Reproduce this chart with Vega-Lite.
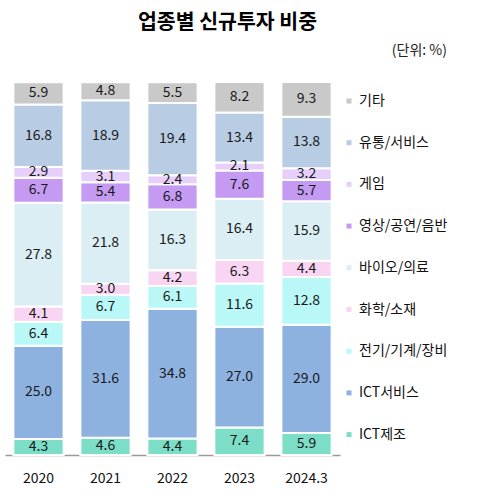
{
  "$schema": "https://vega.github.io/schema/vega-lite/v6.json",
  "autosize": "none",
  "width": 335,
  "height": 373,
  "padding": {"left": 5, "top": 82, "right": 137, "bottom": 43},
  "background": "white",
  "config": {"view": {"stroke": null}, "font": "Noto Sans CJK KR"},
  "title": {
    "text": "업종별 신규투자 비중",
    "fontSize": 20.5,
    "fontWeight": "bold",
    "color": "#000",
    "anchor": "middle",
    "dx": 55,
    "offset": 11
  },
  "data": {
    "values": [
      {"year": "2020", "cat": "ICT제조", "v": 4.3},
      {"year": "2020", "cat": "ICT서비스", "v": 25.0},
      {"year": "2020", "cat": "전기/기계/장비", "v": 6.4},
      {"year": "2020", "cat": "화학/소재", "v": 4.1},
      {"year": "2020", "cat": "바이오/의료", "v": 27.8},
      {"year": "2020", "cat": "영상/공연/음반", "v": 6.7},
      {"year": "2020", "cat": "게임", "v": 2.9},
      {"year": "2020", "cat": "유통/서비스", "v": 16.8},
      {"year": "2020", "cat": "기타", "v": 5.9},
      {"year": "2021", "cat": "ICT제조", "v": 4.6},
      {"year": "2021", "cat": "ICT서비스", "v": 31.6},
      {"year": "2021", "cat": "전기/기계/장비", "v": 6.7},
      {"year": "2021", "cat": "화학/소재", "v": 3.0},
      {"year": "2021", "cat": "바이오/의료", "v": 21.8},
      {"year": "2021", "cat": "영상/공연/음반", "v": 5.4},
      {"year": "2021", "cat": "게임", "v": 3.1},
      {"year": "2021", "cat": "유통/서비스", "v": 18.9},
      {"year": "2021", "cat": "기타", "v": 4.8},
      {"year": "2022", "cat": "ICT제조", "v": 4.4},
      {"year": "2022", "cat": "ICT서비스", "v": 34.8},
      {"year": "2022", "cat": "전기/기계/장비", "v": 6.1},
      {"year": "2022", "cat": "화학/소재", "v": 4.2},
      {"year": "2022", "cat": "바이오/의료", "v": 16.3},
      {"year": "2022", "cat": "영상/공연/음반", "v": 6.8},
      {"year": "2022", "cat": "게임", "v": 2.4},
      {"year": "2022", "cat": "유통/서비스", "v": 19.4},
      {"year": "2022", "cat": "기타", "v": 5.5},
      {"year": "2023", "cat": "ICT제조", "v": 7.4},
      {"year": "2023", "cat": "ICT서비스", "v": 27.0},
      {"year": "2023", "cat": "전기/기계/장비", "v": 11.6},
      {"year": "2023", "cat": "화학/소재", "v": 6.3},
      {"year": "2023", "cat": "바이오/의료", "v": 16.4},
      {"year": "2023", "cat": "영상/공연/음반", "v": 7.6},
      {"year": "2023", "cat": "게임", "v": 2.1},
      {"year": "2023", "cat": "유통/서비스", "v": 13.4},
      {"year": "2023", "cat": "기타", "v": 8.2},
      {"year": "2024.3", "cat": "ICT제조", "v": 5.9},
      {"year": "2024.3", "cat": "ICT서비스", "v": 29.0},
      {"year": "2024.3", "cat": "전기/기계/장비", "v": 12.8},
      {"year": "2024.3", "cat": "화학/소재", "v": 4.4},
      {"year": "2024.3", "cat": "바이오/의료", "v": 15.9},
      {"year": "2024.3", "cat": "영상/공연/음반", "v": 5.7},
      {"year": "2024.3", "cat": "게임", "v": 3.2},
      {"year": "2024.3", "cat": "유통/서비스", "v": 13.8},
      {"year": "2024.3", "cat": "기타", "v": 9.3}
    ]
  },
  "transform": [
    {"calculate": "indexof(['ICT제조','ICT서비스','전기/기계/장비','화학/소재','바이오/의료','영상/공연/음반','게임','유통/서비스','기타'], datum.cat)", "as": "o"},
    {"stack": "v", "groupby": ["year"], "sort": [{"field": "o", "order": "ascending"}], "as": ["y0", "y1"]},
    {"calculate": "(datum.y0 + datum.y1) / 2", "as": "mid"}
  ],
  "encoding": {
    "x": {
      "field": "year",
      "type": "nominal",
      "scale": {"paddingInner": 0.25, "paddingOuter": 0.125},
      "axis": {
        "title": null,
        "labelAngle": 0,
        "ticks": false,
        "domainColor": "#9a9a9a",
        "domainWidth": 1.5,
        "labelFontSize": 14,
        "labelColor": "#111",
        "labelPadding": 16
      }
    }
  },
  "layer": [
    {
      "mark": {"type": "bar", "stroke": "white", "strokeWidth": 2},
      "encoding": {
        "y": {"field": "y0", "type": "quantitative", "scale": {"domain": [0, 100], "nice": false}, "axis": null},
        "y2": {"field": "y1"},
        "color": {
          "field": "cat",
          "type": "nominal",
          "scale": {
            "domain": ["기타", "유통/서비스", "게임", "영상/공연/음반", "바이오/의료", "화학/소재", "전기/기계/장비", "ICT서비스", "ICT제조"],
            "range": ["#C9C9C9", "#B8CCE4", "#E6CFFA", "#C49AF2", "#DAEEF3", "#F8D5F2", "#BAF8F8", "#8EB2E0", "#7CDEC6"]
          },
          "legend": {
            "title": "(단위: %)",
            "orient": "none",
            "legendX": 337,
            "legendY": -38,
            "titleAnchor": "end",
            "titleFontSize": 14,
            "titleFontWeight": "normal",
            "titleColor": "#222",
            "titlePadding": 36,
            "symbolType": "square",
            "symbolSize": 25,
            "symbolStrokeWidth": 0,
            "labelFontSize": 14,
            "labelColor": "#111",
            "labelOffset": 3,
            "rowPadding": 27.7
          }
        }
      }
    },
    {
      "mark": {"type": "text", "fontSize": 14, "color": "#1a1a1a", "baseline": "middle"},
      "encoding": {
        "y": {"field": "mid", "type": "quantitative"},
        "text": {"field": "v", "type": "quantitative", "format": ".1f"}
      }
    }
  ]
}
